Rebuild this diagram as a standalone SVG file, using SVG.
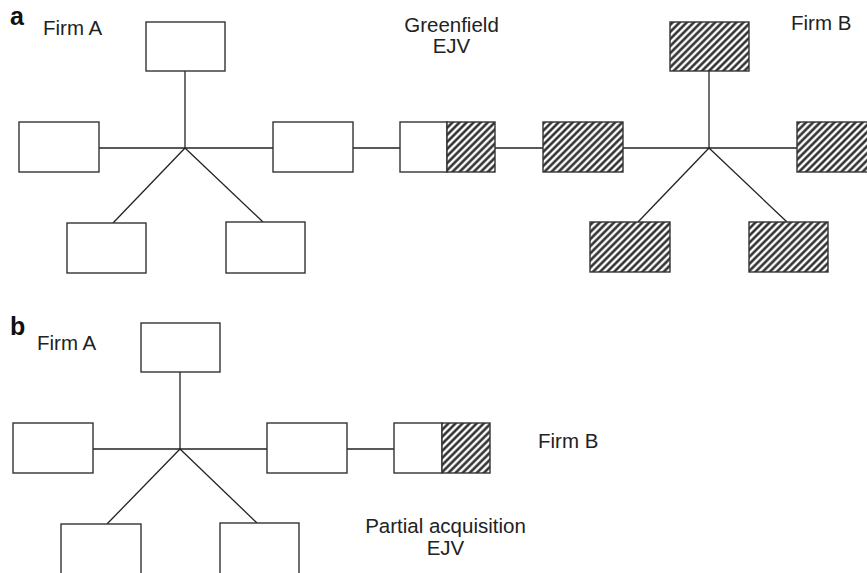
<svg xmlns="http://www.w3.org/2000/svg" width="867" height="573" viewBox="0 0 867 573">
<defs>
<pattern id="hatch" patternUnits="userSpaceOnUse" width="5" height="5" patternTransform="rotate(45)">
<rect width="5" height="5" fill="#fff"/>
<line x1="1.5" y1="0" x2="1.5" y2="5" stroke="#222" stroke-width="2.4"/>
</pattern>
</defs>
<style>
.box{fill:#fff;stroke:#333;stroke-width:1.4}
.hb{fill:url(#hatch);stroke:#333;stroke-width:1.4}
.ln{stroke:#222;stroke-width:1.3;fill:none}
.t{font-family:"Liberation Sans",Arial,sans-serif;font-size:20.5px;fill:#222}
.tc{font-family:"Liberation Sans",Arial,sans-serif;font-size:20.5px;fill:#222;text-anchor:middle}
.lab{font-family:"Liberation Sans",Arial,sans-serif;font-size:25px;font-weight:bold;fill:#111}
</style>
<rect width="867" height="573" fill="#fff"/>
<g id="connectors">
<line class="ln" x1="185" y1="71" x2="185" y2="148"/>
<line class="ln" x1="99" y1="148" x2="273" y2="148"/>
<line class="ln" x1="185" y1="148" x2="113" y2="223"/>
<line class="ln" x1="185" y1="148" x2="263" y2="222"/>
<line class="ln" x1="353" y1="148" x2="400" y2="148"/>
<line class="ln" x1="495" y1="148" x2="543" y2="148"/>
<line class="ln" x1="709" y1="71" x2="709" y2="148"/>
<line class="ln" x1="623" y1="148" x2="797" y2="148"/>
<line class="ln" x1="709" y1="148" x2="638" y2="222"/>
<line class="ln" x1="709" y1="148" x2="787" y2="222"/>
<line class="ln" x1="180" y1="372" x2="180" y2="449"/>
<line class="ln" x1="93" y1="449" x2="267" y2="449"/>
<line class="ln" x1="180" y1="449" x2="107" y2="524"/>
<line class="ln" x1="180" y1="449" x2="257" y2="523"/>
<line class="ln" x1="347" y1="449" x2="394" y2="449"/>
</g>
<g id="a-labels">
<text class="lab" x="10" y="25">a</text>
<text class="t" x="43" y="35">Firm A</text>
<text class="tc" x="451.5" y="32">Greenfield</text>
<text class="tc" x="451.5" y="53">EJV</text>
<text class="t" x="791" y="30">Firm B</text>
</g>
<g id="a-A-top"><rect class="box" x="146" y="22" width="79" height="49"/></g>
<g id="a-A-left"><rect class="box" x="19" y="122" width="80" height="50"/></g>
<g id="a-A-right"><rect class="box" x="273" y="122" width="80" height="50"/></g>
<g id="a-A-bl"><rect class="box" x="67" y="223" width="79" height="50"/></g>
<g id="a-A-br"><rect class="box" x="226" y="222" width="79" height="51"/></g>
<g id="a-ejv"><rect class="box" x="400" y="122" width="47" height="50"/><rect class="hb" x="447" y="122" width="48" height="50"/></g>
<g id="a-B-top"><rect class="hb" x="670" y="22" width="79" height="49"/></g>
<g id="a-B-left"><rect class="hb" x="543" y="122" width="80" height="50"/></g>
<g id="a-B-right"><rect class="hb" x="797" y="122" width="80" height="50"/></g>
<g id="a-B-bl"><rect class="hb" x="590" y="222" width="80" height="50"/></g>
<g id="a-B-br"><rect class="hb" x="749" y="222" width="79" height="50"/></g>
<g id="b-labels">
<text class="lab" x="10" y="335">b</text>
<text class="t" x="37" y="350">Firm A</text>
<text class="t" x="538" y="448">Firm B</text>
<text class="tc" x="445.5" y="533">Partial acquisition</text>
<text class="tc" x="445.5" y="555">EJV</text>
</g>
<g id="b-A-top"><rect class="box" x="141" y="323" width="79" height="49"/></g>
<g id="b-A-left"><rect class="box" x="13" y="423" width="80" height="50"/></g>
<g id="b-A-right"><rect class="box" x="267" y="423" width="80" height="50"/></g>
<g id="b-A-bl"><rect class="box" x="61" y="524" width="80" height="60"/></g>
<g id="b-A-br"><rect class="box" x="220" y="523" width="79" height="60"/></g>
<g id="b-ejv"><rect class="box" x="394" y="423" width="48" height="50"/><rect class="hb" x="442" y="423" width="48" height="50"/></g>
</svg>
